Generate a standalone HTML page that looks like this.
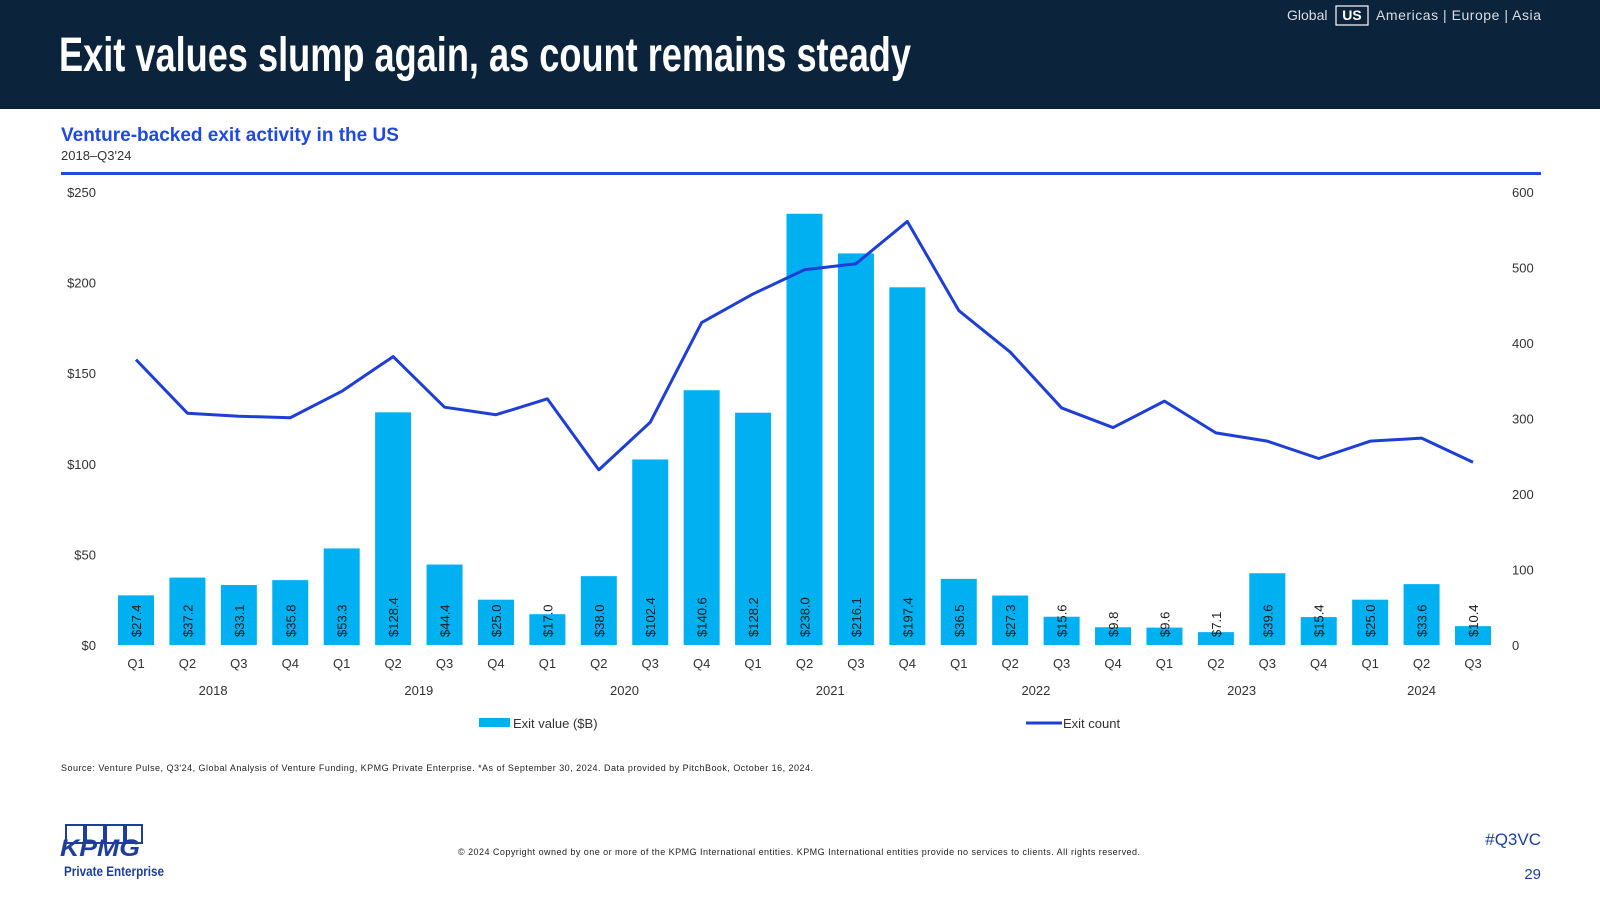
<!DOCTYPE html>
<html><head><meta charset="utf-8"><style>
body{margin:0;width:1600px;height:900px;overflow:hidden;background:#fff;font-family:"Liberation Sans",sans-serif;}
svg{display:block}
</style></head><body>
<svg id="c" width="1600" height="900" xmlns="http://www.w3.org/2000/svg">
<rect x="0" y="0" width="1600" height="109" fill="#0c233c"/>
<text x="59" y="71" fill="#fff" font-family="'Liberation Sans Narrow','Liberation Sans',sans-serif" font-weight="bold" font-size="48" textLength="852" lengthAdjust="spacingAndGlyphs">Exit values slump again, as count remains steady</text>
<g font-size="14" fill="#d8dde4">
<text x="1287" y="20">Global</text>
<rect x="1336" y="6" width="32" height="19" fill="none" stroke="#fff" stroke-width="1.2"/>
<text x="1352" y="20" text-anchor="middle" font-weight="bold" fill="#fff">US</text>
<text x="1541" y="20" text-anchor="end" textLength="165" lengthAdjust="spacing">Americas | Europe | Asia</text>
</g>
<text x="61" y="141" fill="#1e49e2" font-weight="bold" font-size="19">Venture-backed exit activity in the US</text>
<text x="61" y="160" fill="#333" font-size="13">2018–Q3'24</text>
<rect x="61" y="172" width="1480" height="3" fill="#1e49e2"/>
<g id="plot"></g>
<text x="61" y="771" font-size="9" fill="#222" textLength="752" lengthAdjust="spacing">Source: Venture Pulse, Q3'24, Global Analysis of Venture Funding, KPMG Private Enterprise. *As of September 30, 2024. Data provided by PitchBook, October 16, 2024.</text>
<g>
<rect x="66" y="825" width="18" height="18" fill="none" stroke="#1e3e9e" stroke-width="2"/>
<rect x="86" y="825" width="18" height="18" fill="none" stroke="#1e3e9e" stroke-width="2"/>
<rect x="106" y="825" width="18" height="18" fill="none" stroke="#1e3e9e" stroke-width="2"/>
<rect x="126" y="825" width="16" height="18" fill="none" stroke="#1e3e9e" stroke-width="2"/>
<text x="60" y="856" font-size="24" font-weight="bold" font-style="italic" fill="#1e3e9e" textLength="80" lengthAdjust="spacingAndGlyphs">KPMG</text>
<text x="64" y="876" font-size="14" font-weight="bold" fill="#1e3e9e" textLength="100" lengthAdjust="spacingAndGlyphs">Private Enterprise</text>
</g>
<text x="458" y="855" font-size="9" fill="#222" textLength="682" lengthAdjust="spacing">© 2024 Copyright owned by one or more of the KPMG International entities. KPMG International entities provide no services to clients. All rights reserved.</text>
<text x="1541" y="845" text-anchor="end" font-size="17" fill="#1e3e9e">#Q3VC</text>
<text x="1541" y="879" text-anchor="end" font-size="15" fill="#1e3e9e">29</text>
</svg>
<script>
const quarters=["Q1","Q2","Q3","Q4","Q1","Q2","Q3","Q4","Q1","Q2","Q3","Q4","Q1","Q2","Q3","Q4","Q1","Q2","Q3","Q4","Q1","Q2","Q3","Q4","Q1","Q2","Q3"];
const years=["2018","2019","2020","2021","2022","2023","2024"];
const exitValues=[27.4,37.2,33.1,35.8,53.3,128.4,44.4,25.0,17.0,38.0,102.4,140.6,128.2,238.0,216.1,197.4,36.5,27.3,15.6,9.8,9.6,7.1,39.6,15.4,25.0,33.6,10.4];
const exitCounts=[378,307,303,301,336,382,315,305,326,232,295,427,465,497,505,561,443,388,314,288,323,281,270,247,270,274,242];
const leftTicks=[0,50,100,150,200,250];
const rightTicks=[0,100,200,300,400,500,600];
const NS="http://www.w3.org/2000/svg";
const g=document.getElementById('plot');
const y0=645,yTop=192;
const yL=v=>y0-(v/250)*(y0-yTop);
const yR=v=>y0-(v/600)*(y0-yTop);
const x0=136,step=(1473-136)/26;
const xQ=i=>x0+i*step;
function mk(tag,attrs,txt){const e=document.createElementNS(NS,tag);for(const k in attrs)e.setAttribute(k,attrs[k]);if(txt!==undefined)e.textContent=txt;g.appendChild(e);return e;}
leftTicks.forEach(t=>{const e=mk('text',{x:96,y:yL(t)+5,'text-anchor':'end','font-size':13,fill:'#333'},'$'+t);

});
rightTicks.forEach(t=>{const e=mk('text',{x:1512,y:yR(t)+5,'font-size':13,fill:'#333'},String(t));

});
const bw=36;
exitValues.forEach((v,i)=>{const x=xQ(i);
const r=mk('rect',{x:x-bw/2,y:yL(v),width:bw,height:y0-yL(v),fill:'#00b0f0'});


const t=mk('text',{x:0,y:0,transform:`translate(${x+5},${y0-8}) rotate(-90)`,'font-size':13,fill:'#1a1a1a'},'$'+v.toFixed(1));


const q=mk('text',{x:x,y:668,'text-anchor':'middle','font-size':13,fill:'#333'},quarters[i]);

});
years.forEach((yr,k)=>{const s=k*4,e=Math.min(s+3,quarters.length-1);const cx=(xQ(s)+xQ(e))/2;
const t=mk('text',{x:cx,y:695,'text-anchor':'middle','font-size':13,fill:'#333'},yr);

});
const pl=mk('polyline',{points:exitCounts.map((v,i)=>xQ(i)+','+yR(v)).join(' '),fill:'none',stroke:'#1e3ed8','stroke-width':3,'stroke-linejoin':'round'});


const l1=mk('rect',{x:479,y:718,width:31,height:9,fill:'#00b0f0'});


const l2=mk('text',{x:513,y:728,'font-size':13,fill:'#333'},'Exit value ($B)');


const l3=mk('line',{x1:1026,y1:723,x2:1062,y2:723,stroke:'#1e3ed8','stroke-width':3});


const l4=mk('text',{x:1063,y:728,'font-size':13,fill:'#333'},'Exit count');


</script>
</body></html>
